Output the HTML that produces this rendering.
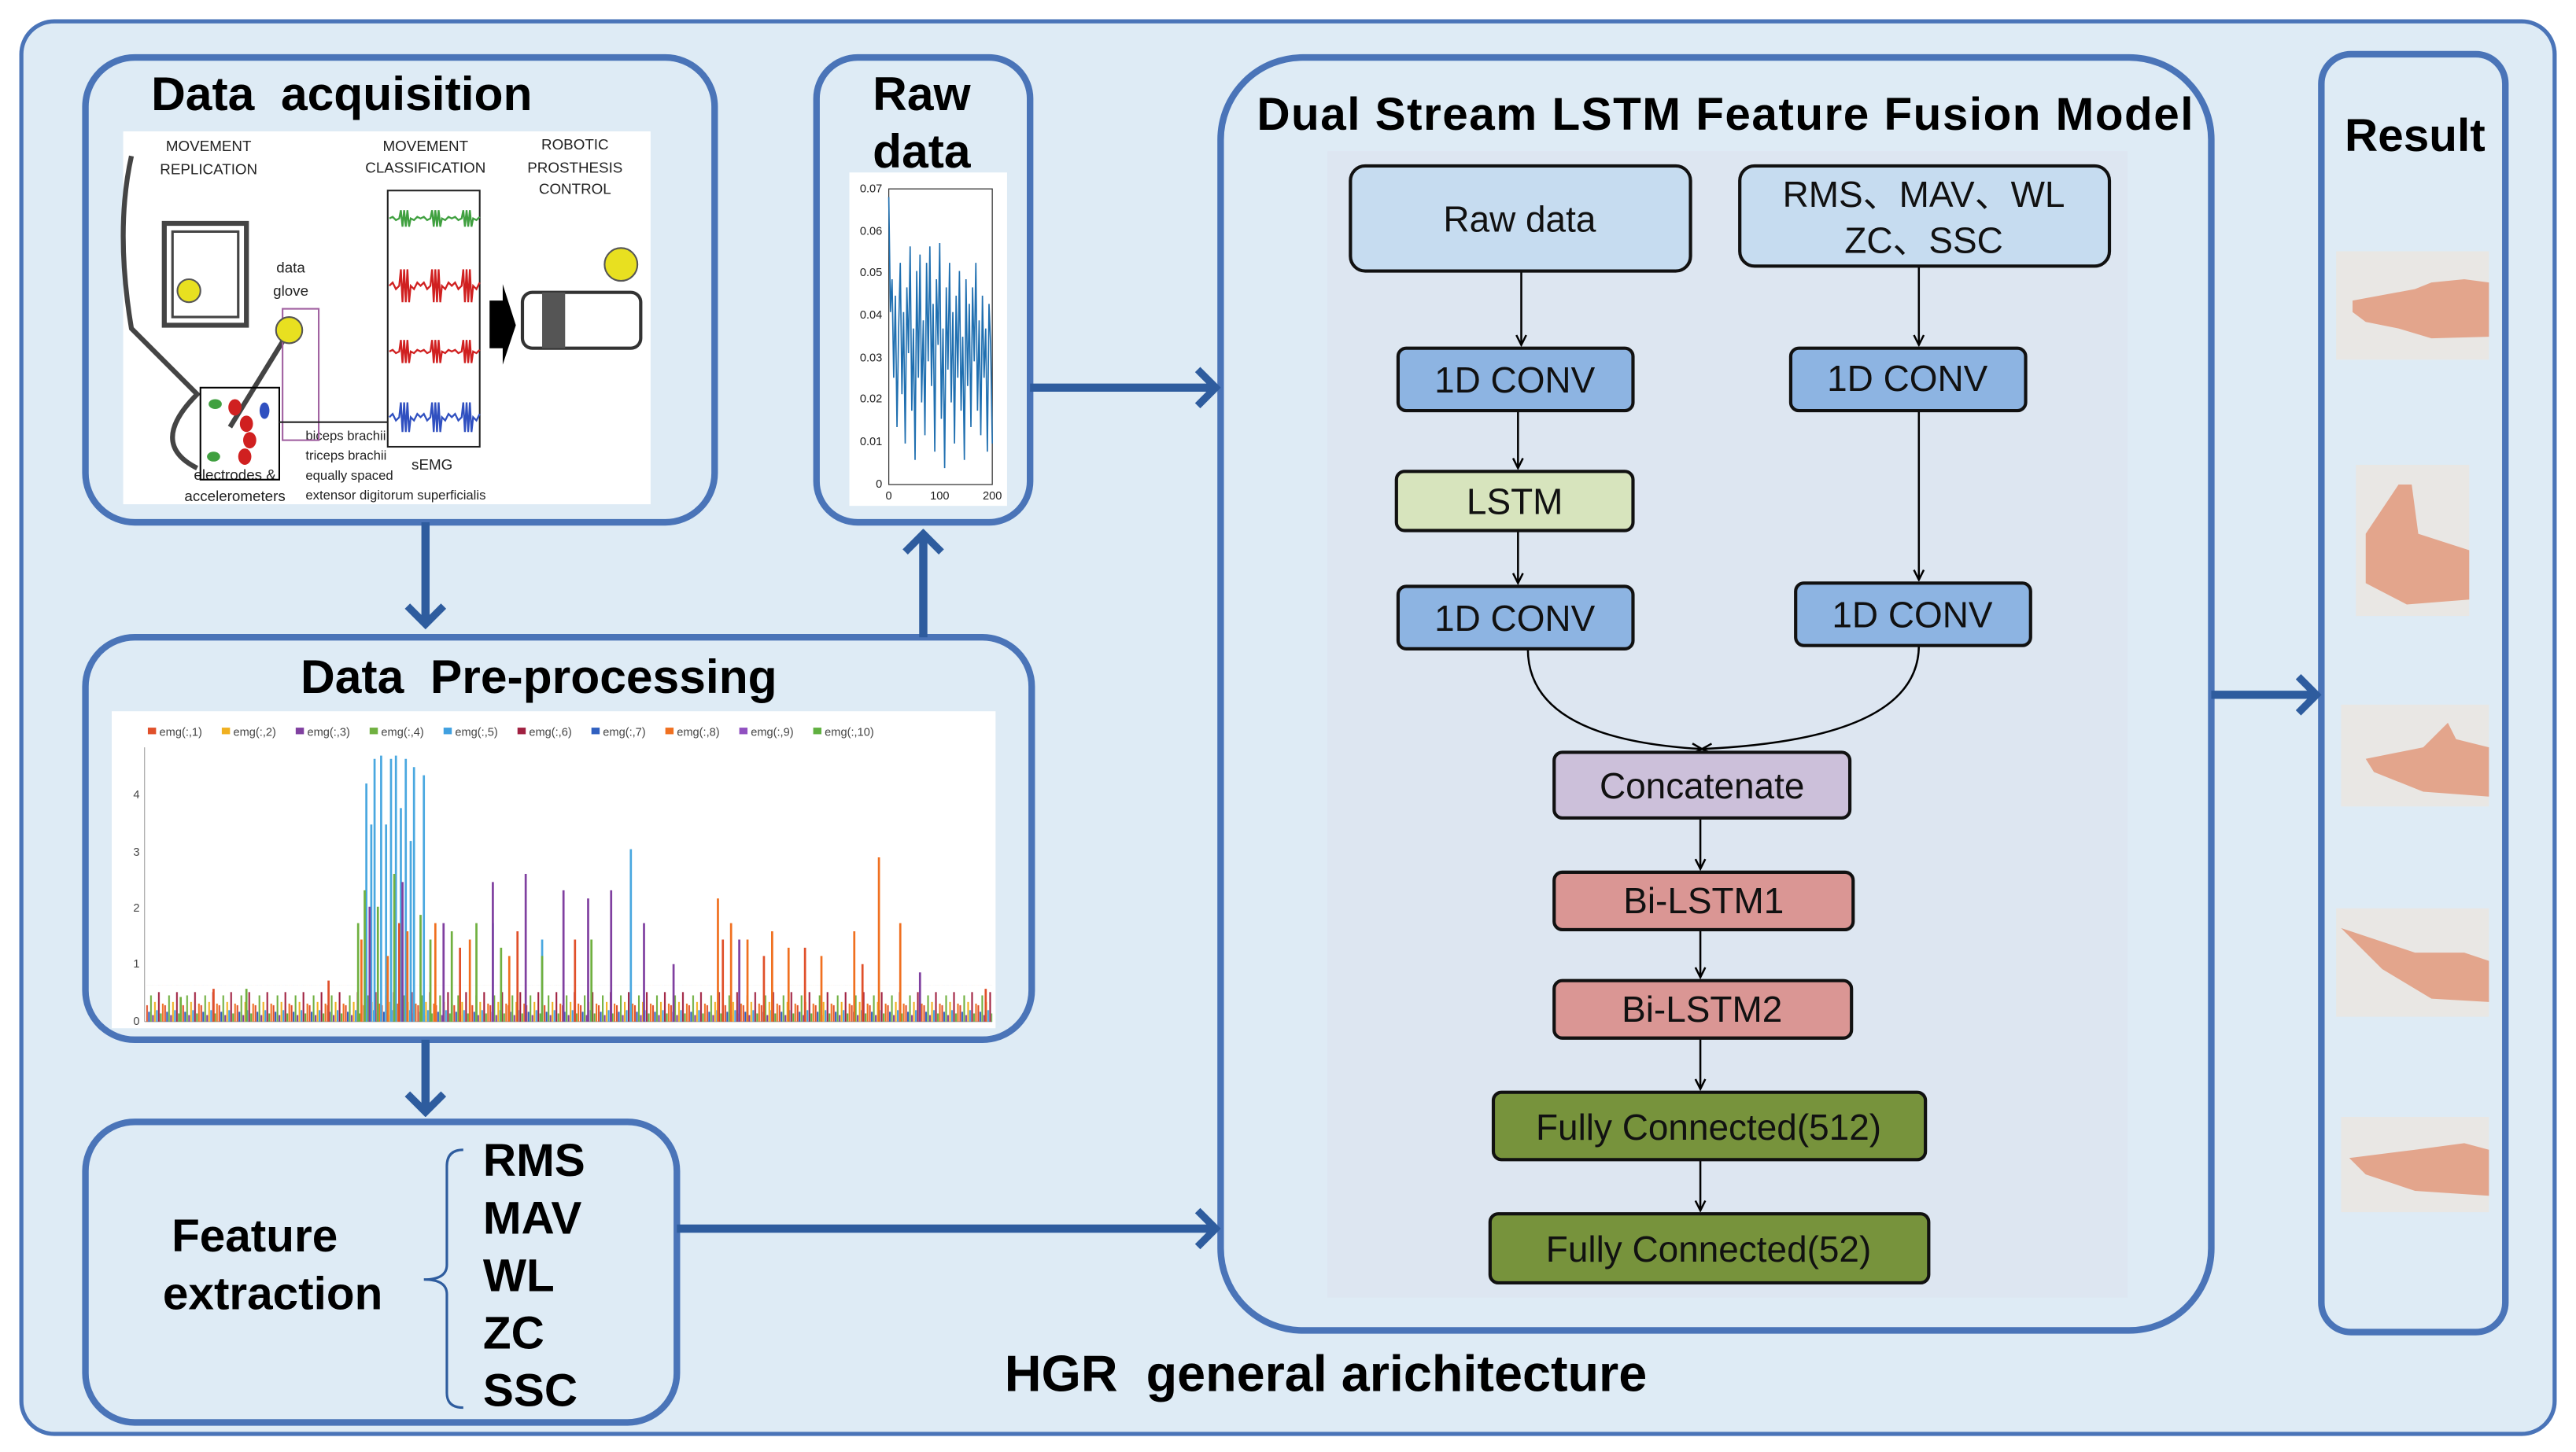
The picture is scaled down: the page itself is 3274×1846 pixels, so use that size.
<!DOCTYPE html>
<html><head><meta charset="utf-8"><style>
html,body{margin:0;padding:0;background:#fff}
svg{display:block}
text{font-family:"Liberation Sans",Arial,sans-serif}
</style></head><body>
<svg width="3274" height="1846" viewBox="0 0 1568 884" preserveAspectRatio="none" xmlns="http://www.w3.org/2000/svg">
<defs>
<marker id="ab" markerWidth="16" markerHeight="26" refX="13" refY="13" orient="auto" markerUnits="userSpaceOnUse"><path d="M2,2 L13,13 L2,24" fill="none" stroke="#2e5c9e" stroke-width="4.5"/></marker>
<marker id="ak" markerWidth="8" markerHeight="8" refX="7" refY="4" orient="auto" markerUnits="userSpaceOnUse"><path d="M1,1 L7,4 L1,7" fill="none" stroke="#000" stroke-width="1.2"/></marker>
<pattern id="noise" x="89" y="600" width="11" height="22" patternUnits="userSpaceOnUse">
<g stroke-width="1">
<line x1="0.5" y1="22" x2="0.5" y2="12" stroke="#e0502a"/>
<line x1="1.7" y1="22" x2="1.7" y2="16" stroke="#3060c0"/>
<line x1="2.9" y1="22" x2="2.9" y2="6" stroke="#70b040"/>
<line x1="4.1" y1="22" x2="4.1" y2="18" stroke="#8040a0"/>
<line x1="5.3" y1="22" x2="5.3" y2="10" stroke="#f0b020"/>
<line x1="6.5" y1="22" x2="6.5" y2="15" stroke="#40a0e0"/>
<line x1="7.7" y1="22" x2="7.7" y2="4" stroke="#a02040"/>
<line x1="8.9" y1="22" x2="8.9" y2="17" stroke="#60b040"/>
<line x1="10.1" y1="22" x2="10.1" y2="11" stroke="#f07020"/>
</g>
</pattern>
</defs>
<rect x="13" y="13" width="1542" height="860" rx="20" fill="#deebf5" stroke="#4a74b8" stroke-width="2.5"/>
<rect x="52" y="35" width="383" height="283" rx="30" fill="#deebf5" stroke="#4a74b8" stroke-width="4"/>
<rect x="497" y="35" width="130" height="283" rx="25" fill="#deebf5" stroke="#4a74b8" stroke-width="4"/>
<rect x="52" y="388" width="576" height="245" rx="30" fill="#deebf5" stroke="#4a74b8" stroke-width="4"/>
<rect x="52" y="683" width="360" height="183" rx="30" fill="#deebf5" stroke="#4a74b8" stroke-width="4"/>
<rect x="743" y="35" width="603" height="775" rx="50" fill="#deebf5" stroke="#4a74b8" stroke-width="4"/>
<rect x="1413" y="33" width="112" height="778" rx="18" fill="#deebf5" stroke="#4a74b8" stroke-width="4"/>
<text x="208" y="67" font-size="29" font-weight="bold" text-anchor="middle" xml:space="preserve">Data  acquisition</text>
<text x="561" y="67" font-size="29" font-weight="bold" text-anchor="middle">Raw</text>
<text x="561" y="102" font-size="29" font-weight="bold" text-anchor="middle">data</text>
<text x="328" y="422" font-size="29" font-weight="bold" text-anchor="middle" xml:space="preserve">Data  Pre-processing</text>
<text x="1050" y="79" font-size="28" font-weight="bold" text-anchor="middle" textLength="570">Dual Stream LSTM Feature Fusion Model</text>
<text x="1470" y="92" font-size="28" font-weight="bold" text-anchor="middle">Result</text>
<text x="807" y="847" font-size="31" font-weight="bold" text-anchor="middle" xml:space="preserve">HGR  general arichitecture</text>
<text x="155" y="762" font-size="28" font-weight="bold" text-anchor="middle">Feature</text>
<text x="166" y="797" font-size="28" font-weight="bold" text-anchor="middle">extraction</text>
<path d="M282,700 Q272,700 272,710 L272,770 Q272,779 258,779 Q272,779 272,788 L272,848 Q272,857 282,857" fill="none" stroke="#2e5c9e" stroke-width="1.5"/>
<g font-size="28" font-weight="bold"><text x="294" y="716">RMS</text><text x="294" y="751">MAV</text><text x="294" y="786">WL</text><text x="294" y="821">ZC</text><text x="294" y="856">SSC</text></g>
<g stroke="#2e5c9e" stroke-width="5" fill="none">
<line x1="259" y1="318" x2="259" y2="380" marker-end="url(#ab)"/>
<line x1="562" y1="388" x2="562" y2="325" marker-end="url(#ab)"/>
<line x1="627" y1="236" x2="740" y2="236" marker-end="url(#ab)"/>
<line x1="259" y1="633" x2="259" y2="677" marker-end="url(#ab)"/>
<line x1="412" y1="748" x2="740" y2="748" marker-end="url(#ab)"/>
<line x1="1346" y1="423" x2="1410" y2="423" marker-end="url(#ab)"/>
</g>
<!-- acquisition image -->
<rect x="75" y="80" width="321" height="227" fill="#fff"/>
<g font-size="9" text-anchor="middle" fill="#222">
<text x="127" y="92">MOVEMENT</text><text x="127" y="106">REPLICATION</text>
<text x="259" y="92">MOVEMENT</text><text x="259" y="105">CLASSIFICATION</text>
<text x="350" y="91">ROBOTIC</text><text x="350" y="105">PROSTHESIS</text><text x="350" y="118">CONTROL</text>
<text x="177" y="166">data</text><text x="177" y="180">glove</text>
<text x="263" y="286">sEMG</text>
<text x="143" y="292">electrodes &amp;</text><text x="143" y="305">accelerometers</text>
</g>
<g font-size="8" fill="#222"><text x="186" y="268">biceps brachii</text><text x="186" y="280">triceps brachii</text><text x="186" y="292">equally spaced</text><text x="186" y="304">extensor digitorum superficialis</text></g>
<g fill="none" stroke="#444" stroke-width="3">
<rect x="100" y="136" width="50" height="62"/>
<path d="M80,95 Q70,140 80,200 L120,240 Q90,270 120,285"/>
<path d="M180,195 L140,260"/>
</g>
<rect x="105" y="141" width="40" height="52" fill="none" stroke="#444" stroke-width="1.5"/>
<rect x="122" y="236" width="48" height="56" fill="none" stroke="#000" stroke-width="1"/>
<rect x="172" y="188" width="22" height="80" fill="none" stroke="#a060a0" stroke-width="1"/>
<circle cx="115" cy="177" r="7" fill="#e8e020" stroke="#555"/>
<circle cx="176" cy="201" r="8" fill="#e8e020" stroke="#555"/>
<circle cx="378" cy="161" r="10" fill="#e8e020" stroke="#555"/>
<g fill="#d02020"><ellipse cx="143" cy="248" rx="4" ry="5"/><ellipse cx="150" cy="258" rx="4" ry="5"/><ellipse cx="152" cy="268" rx="4" ry="5"/><ellipse cx="149" cy="278" rx="4" ry="5"/></g>
<ellipse cx="131" cy="246" rx="4" ry="3" fill="#40a040"/><ellipse cx="130" cy="278" rx="4" ry="3" fill="#40a040"/><ellipse cx="161" cy="250" rx="3" ry="5" fill="#3050c0"/>
<line x1="170" y1="257" x2="236" y2="257" stroke="#222"/>
<rect x="236" y="116" width="56" height="156" fill="none" stroke="#222"/>
<g fill="none" stroke-width="1.1">
<path stroke="#40a040" d="M237,133 l2,-1 2,2 2,-1 1,-5 1,10 1,-10 1,10 1,-10 1,10 1,-5 2,1 2,-2 2,1 l2,-1 2,2 2,-1 1,-5 1,10 1,-10 1,10 1,-10 1,10 1,-5 2,1 2,-2 2,1 l2,-1 2,2 2,-1 1,-5 1,10 1,-10 1,10 1,-10 1,10 1,-5 2,1 2,-2"/>
<path stroke="#d02020" d="M237,174 l2,-2 2,4 2,-2 1,-10 1,20 1,-20 1,20 1,-20 1,20 1,-10 2,2 2,-4 2,2 l2,-2 2,4 2,-2 1,-10 1,20 1,-20 1,20 1,-20 1,20 1,-10 2,2 2,-4 2,2 l2,-2 2,4 2,-2 1,-10 1,20 1,-20 1,20 1,-20 1,20 1,-10 2,2 2,-4"/>
<path stroke="#d02020" d="M237,214 l2,-1 2,2 2,-1 1,-7 1,14 1,-14 1,14 1,-14 1,14 1,-7 2,1 2,-2 2,1 l2,-1 2,2 2,-1 1,-7 1,14 1,-14 1,14 1,-14 1,14 1,-7 2,1 2,-2 2,1 l2,-1 2,2 2,-1 1,-7 1,14 1,-14 1,14 1,-14 1,14 1,-7 2,1 2,-2"/>
<path stroke="#3050c0" d="M237,254 l2,-2 2,4 2,-2 1,-9 1,18 1,-18 1,18 1,-18 1,18 1,-9 2,2 2,-4 2,2 l2,-2 2,4 2,-2 1,-9 1,18 1,-18 1,18 1,-18 1,18 1,-9 2,2 2,-4 2,2 l2,-2 2,4 2,-2 1,-9 1,18 1,-18 1,18 1,-18 1,18 1,-9 2,2 2,-4"/>
</g>
<path d="M298,183 L306,183 L306,173 L314,198 L306,222 L306,212 L298,212Z" fill="#000"/>
<rect x="318" y="178" width="72" height="34" rx="6" fill="none" stroke="#333" stroke-width="2"/>
<rect x="330" y="178" width="14" height="34" fill="#555"/>
<!-- raw data plot -->
<rect x="517" y="105" width="96" height="203" fill="#fff"/>
<rect x="541" y="115" width="63" height="180" fill="none" stroke="#333" stroke-width="0.6"/>
<g font-size="7" text-anchor="end" fill="#222"><text x="537" y="117">0.07</text><text x="537" y="143">0.06</text><text x="537" y="168">0.05</text><text x="537" y="194">0.04</text><text x="537" y="220">0.03</text><text x="537" y="245">0.02</text><text x="537" y="271">0.01</text><text x="537" y="297">0</text></g>
<g font-size="7" text-anchor="middle" fill="#222"><text x="541" y="304">0</text><text x="572" y="304">100</text><text x="604" y="304">200</text></g>
<path fill="none" stroke="#1f6fb0" stroke-width="0.8" d="M541,120 L542,190 L543,170 L544,230 L545,180 L546,260 L547,200 L548,160 L549,240 L550,190 L551,270 L552,175 L553,215 L554,150 L555,250 L556,200 L557,280 L558,165 L559,230 L560,155 L561,245 L562,195 L563,265 L564,160 L565,220 L566,150 L567,235 L568,185 L569,275 L570,170 L571,210 L572,148 L573,255 L574,200 L575,285 L576,175 L577,225 L578,160 L579,245 L580,190 L581,270 L582,180 L583,230 L584,165 L585,250 L586,205 L587,280 L588,170 L589,235 L590,185 L591,260 L592,175 L593,220 L594,160 L595,250 L596,195 L597,265 L598,180 L599,230 L600,200 L601,275 L602,185 L603,210 L604,270"/>
<!-- preprocessing chart -->
<rect x="68" y="433" width="538" height="193" fill="#fff"/>
<g font-size="7" fill="#444">
<rect x="90" y="443" width="5" height="4" fill="#e0502a"/><text x="97" y="448">emg(:,1)</text>
<rect x="135" y="443" width="5" height="4" fill="#f0b020"/><text x="142" y="448">emg(:,2)</text>
<rect x="180" y="443" width="5" height="4" fill="#8040a0"/><text x="187" y="448">emg(:,3)</text>
<rect x="225" y="443" width="5" height="4" fill="#70b040"/><text x="232" y="448">emg(:,4)</text>
<rect x="270" y="443" width="5" height="4" fill="#40a0e0"/><text x="277" y="448">emg(:,5)</text>
<rect x="315" y="443" width="5" height="4" fill="#a02040"/><text x="322" y="448">emg(:,6)</text>
<rect x="360" y="443" width="5" height="4" fill="#3060c0"/><text x="367" y="448">emg(:,7)</text>
<rect x="405" y="443" width="5" height="4" fill="#f07020"/><text x="412" y="448">emg(:,8)</text>
<rect x="450" y="443" width="5" height="4" fill="#9050c0"/><text x="457" y="448">emg(:,9)</text>
<rect x="495" y="443" width="5" height="4" fill="#60b040"/><text x="502" y="448">emg(:,10)</text>
</g>
<line x1="88" y1="455" x2="88" y2="622" stroke="#999" stroke-width="0.5"/>
<line x1="88" y1="622" x2="604" y2="622" stroke="#999" stroke-width="0.5"/>
<g font-size="7" fill="#444" text-anchor="end"><text x="85" y="486">4</text><text x="85" y="521">3</text><text x="85" y="555">2</text><text x="85" y="589">1</text><text x="85" y="624">0</text></g>
<rect x="89" y="600" width="515" height="22" fill="url(#noise)"/>
<g fill="none" stroke-width="1.3">
<path stroke="#4aa8e0" d="M223,622v-145M226,622v-120M228,622v-160M232,622v-162M235,622v-120M238,622v-160M241,622v-162M244,622v-130M247,622v-160M250,622v-110M252,622v-155M258,622v-150M384,622v-105M300,622v-60M330,622v-50"/>
<path stroke="#70b040" d="M218,622v-60M222,622v-80M230,622v-70M240,622v-90M256,622v-65M262,622v-50M275,622v-55M290,622v-60M305,622v-45M330,622v-40M360,622v-50M110,622v-15M150,622v-20"/>
<path stroke="#f07020" d="M220,622v-50M236,622v-40M248,622v-55M265,622v-60M286,622v-50M310,622v-40M437,622v-75M445,622v-60M455,622v-50M470,622v-55M480,622v-45M535,622v-100M548,622v-60M520,622v-55M500,622v-40"/>
<path stroke="#8040a0" d="M225,622v-70M245,622v-85M270,622v-60M300,622v-85M320,622v-90M343,622v-80M358,622v-75M372,622v-80M392,622v-60M410,622v-35M450,622v-50M560,622v-30"/>
<path stroke="#e0502a" d="M130,622v-20M200,622v-25M243,622v-60M280,622v-45M315,622v-55M350,622v-50M440,622v-50M465,622v-40M490,622v-45M525,622v-35M600,622v-20"/>
</g>
<!-- model inner -->
<rect x="808" y="92" width="487" height="698" fill="#dde6f1"/>
<g stroke="#000" stroke-width="1.2" fill="none">
<line x1="926" y1="165" x2="926" y2="210" marker-end="url(#ak)"/>
<line x1="1168" y1="162" x2="1168" y2="210" marker-end="url(#ak)"/>
<line x1="924" y1="250" x2="924" y2="285" marker-end="url(#ak)"/>
<line x1="924" y1="323" x2="924" y2="355" marker-end="url(#ak)"/>
<line x1="1168" y1="250" x2="1168" y2="353" marker-end="url(#ak)"/>
<path d="M930,395 Q930,450 1036,456" marker-end="url(#ak)"/>
<path d="M1168,393 Q1168,450 1036,456" marker-end="url(#ak)"/>
<line x1="1035" y1="498" x2="1035" y2="529" marker-end="url(#ak)"/>
<line x1="1035" y1="566" x2="1035" y2="595" marker-end="url(#ak)"/>
<line x1="1035" y1="632" x2="1035" y2="663" marker-end="url(#ak)"/>
<line x1="1035" y1="706" x2="1035" y2="737" marker-end="url(#ak)"/>
</g>
<g stroke="#111" stroke-width="2">
<rect x="822" y="101" width="207" height="64" rx="9" fill="#c6dcf0"/>
<rect x="1059" y="101" width="225" height="61" rx="9" fill="#c6dcf0"/>
<rect x="851" y="212" width="143" height="38" rx="5" fill="#8db4e2"/>
<rect x="1090" y="212" width="143" height="38" rx="5" fill="#8db4e2"/>
<rect x="850" y="287" width="144" height="36" rx="5" fill="#d7e4bd"/>
<rect x="851" y="357" width="143" height="38" rx="5" fill="#8db4e2"/>
<rect x="1093" y="355" width="143" height="38" rx="5" fill="#8db4e2"/>
<rect x="946" y="458" width="180" height="40" rx="5" fill="#ccc0da"/>
<rect x="946" y="531" width="182" height="35" rx="5" fill="#da9694"/>
<rect x="946" y="597" width="181" height="35" rx="5" fill="#da9694"/>
<rect x="909" y="665" width="263" height="41" rx="5" fill="#77933c"/>
<rect x="907" y="739" width="267" height="42" rx="5" fill="#77933c"/>
</g>
<g font-size="22" text-anchor="middle" fill="#111">
<text x="925" y="141">Raw data</text>
<text x="1171" y="126">RMS、MAV、WL</text>
<text x="1171" y="154">ZC、SSC</text>
<text x="922" y="239">1D CONV</text>
<text x="1161" y="238">1D CONV</text>
<text x="922" y="313">LSTM</text>
<text x="922" y="384">1D CONV</text>
<text x="1164" y="382">1D CONV</text>
<text x="1036" y="486">Concatenate</text>
<text x="1037" y="556">Bi-LSTM1</text>
<text x="1036" y="622">Bi-LSTM2</text>
<text x="1040" y="694">Fully Connected(512)</text>
<text x="1040" y="768">Fully Connected(52)</text>
</g>
<g>
<rect x="1422" y="153" width="93" height="66" fill="#e9e7e4"/><path d="M1432,183 L1470,176 L1480,172 L1500,170 L1515,172 L1515,205 L1480,206 L1460,200 L1440,196 L1432,190Z" fill="#e3a58c"/>
<rect x="1434" y="283" width="69" height="92" fill="#e9e7e4"/><path d="M1460,295 L1468,295 L1472,325 L1503,335 L1503,365 L1465,368 L1440,355 L1440,325Z" fill="#e3a58c"/>
<rect x="1425" y="429" width="90" height="62" fill="#e9e7e4"/><path d="M1440,462 L1475,455 L1490,440 L1495,450 L1515,455 L1515,485 L1475,482 L1445,470Z" fill="#e3a58c"/>
<rect x="1422" y="553" width="93" height="66" fill="#e9e7e4"/><path d="M1425,565 L1470,580 L1500,580 L1515,585 L1515,610 L1480,608 L1450,590Z" fill="#e3a58c"/>
<rect x="1425" y="680" width="90" height="58" fill="#e9e7e4"/><path d="M1430,705 L1470,700 L1500,696 L1515,700 L1515,728 L1470,725 L1440,715Z" fill="#e3a58c"/>
</g>
</svg>
</body></html>
